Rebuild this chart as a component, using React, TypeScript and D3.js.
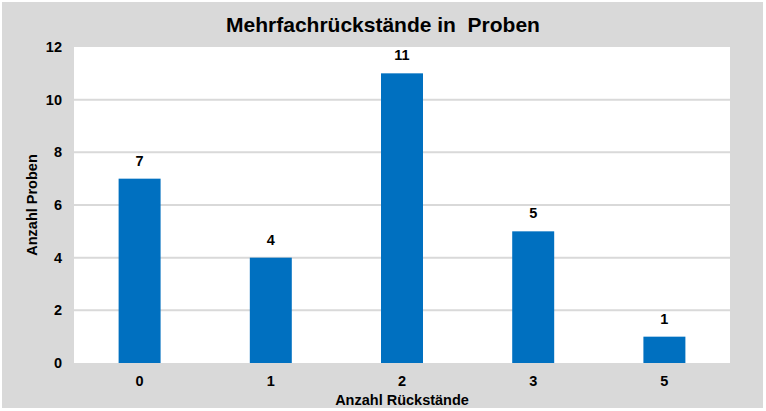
import { useEffect, useRef } from 'react'
import * as d3 from 'd3'

const categories = ['0', '1', '2', '3', '5']
const counts = [7, 4, 11, 5, 1]
const yTicks = [0, 2, 4, 6, 8, 10, 12]

const TITLE = 'Mehrfachrückstände in  Proben'
const X_TITLE = 'Anzahl Rückstände'
const Y_TITLE = 'Anzahl Proben'

export default function App() {
  const svgRef = useRef<SVGSVGElement>(null)

  useEffect(() => {
    if (!svgRef.current) return
    const svg = d3.select(svgRef.current)
    svg.selectAll('*').remove()

    const W = 766
    const H = 411
    const margin = { top: 47, right: 36, bottom: 48, left: 74 }
    const w = W - margin.left - margin.right
    const h = H - margin.top - margin.bottom
    const font = 'Arial, "Liberation Sans", sans-serif'
    const small = '14.5px'

    // outer chart area
    svg.append('rect').attr('x', 2).attr('y', 2).attr('width', 761).attr('height', 406)
      .attr('fill', '#d9d9d9')

    const g = svg.append('g').attr('transform', `translate(${margin.left},${margin.top})`)
    g.append('rect').attr('width', w).attr('height', h).attr('fill', '#ffffff')

    const x = d3.scaleBand().domain(categories).range([0, w]).paddingInner(0.68).paddingOuter(0.34)
    const y = d3.scaleLinear().domain([0, 12]).range([h, 0])

    // gridlines
    g.selectAll('line.grid').data(yTicks.filter(t => t > 0 && t < 12)).enter().append('line')
      .attr('x1', 0).attr('x2', w)
      .attr('y1', d => y(d)).attr('y2', d => y(d))
      .attr('stroke', '#d9d9d9').attr('stroke-width', 2)

    // bars
    g.selectAll('rect.bar').data(counts).enter().append('rect')
      .attr('x', (_, i) => x(categories[i])!)
      .attr('y', d => y(d))
      .attr('width', x.bandwidth())
      .attr('height', d => h - y(d))
      .attr('fill', '#0070c0')

    // value labels
    g.selectAll('text.val').data(counts).enter().append('text')
      .attr('x', (_, i) => x(categories[i])! + x.bandwidth() / 2)
      .attr('y', d => y(d) - 13)
      .attr('text-anchor', 'middle')
      .attr('font-family', font).attr('font-size', small).attr('font-weight', 'bold')
      .attr('fill', '#000')
      .text(d => d)

    // y tick labels
    g.selectAll('text.ytick').data(yTicks).enter().append('text')
      .attr('x', -12).attr('y', d => y(d) + 5)
      .attr('text-anchor', 'end')
      .attr('font-family', font).attr('font-size', small).attr('font-weight', 'bold')
      .attr('fill', '#000')
      .text(d => d)

    // x tick labels
    g.selectAll('text.xtick').data(categories).enter().append('text')
      .attr('x', d => x(d)! + x.bandwidth() / 2).attr('y', h + 23)
      .attr('text-anchor', 'middle')
      .attr('font-family', font).attr('font-size', small).attr('font-weight', 'bold')
      .attr('fill', '#000')
      .text(d => d)

    // title
    svg.append('text').attr('x', 383).attr('y', 32)
      .attr('text-anchor', 'middle')
      .attr('font-family', font).attr('font-size', '21px').attr('font-weight', 'bold')
      .attr('fill', '#000').style('white-space', 'pre')
      .text(TITLE)

    // axis titles
    svg.append('text').attr('x', margin.left + w / 2).attr('y', 405)
      .attr('text-anchor', 'middle')
      .attr('font-family', font).attr('font-size', small).attr('font-weight', 'bold')
      .attr('fill', '#000')
      .text(X_TITLE)

    svg.append('text')
      .attr('transform', 'rotate(-90)')
      .attr('x', -(margin.top + h / 2)).attr('y', 37)
      .attr('text-anchor', 'middle')
      .attr('font-family', font).attr('font-size', small).attr('font-weight', 'bold')
      .attr('fill', '#000')
      .text(Y_TITLE)
  }, [])

  return (
    <div>
      <style>{'body{margin:0}'}</style>
      <svg ref={svgRef} width={766} height={411} style={{ display: 'block', background: '#fff' }} />
    </div>
  )
}
